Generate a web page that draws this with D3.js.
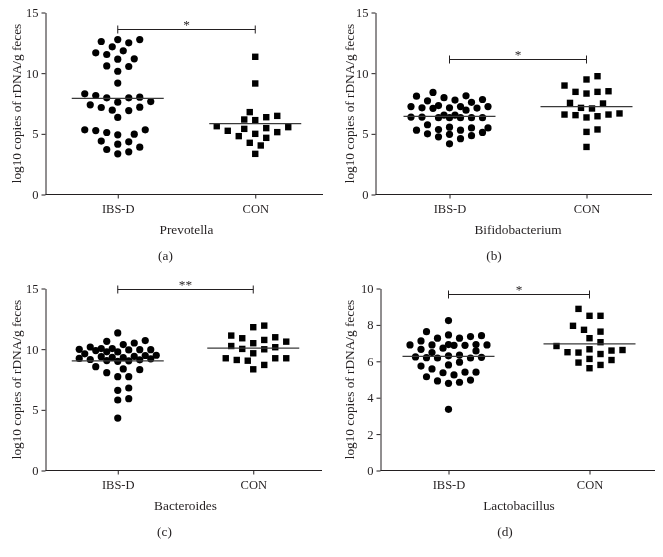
<!DOCTYPE html>
<html><head><meta charset="utf-8">
<script src="https://cdn.jsdelivr.net/npm/d3@7"></script>
<style>
body{margin:0;background:#fff}
svg{display:block;will-change:transform;-webkit-font-smoothing:antialiased}
text{font-family:"Liberation Serif","Times New Roman",serif;fill:#231f20}
</style>
</head><body>
<svg id="chart" width="663" height="557"></svg>
<script>
// ---------------- data ----------------
const groups = ["IBS-D", "CON"];
const genera = ["Prevotella", "Bifidobacterium", "Bacteroides", "Lactobacillus"];
const panelLetters = ["(a)", "(b)", "(c)", "(d)"];
const yMaxima = [15, 15, 15, 10];
const yTickValues = [[0, 5, 10, 15], [0, 5, 10, 15], [0, 5, 10, 15], [0, 2, 4, 6, 8, 10]];
const sigLevels = [13.6, 11.13, 15, 9.72];
const sigMarks = ["*", "*", "**", "*"];
const yTitle = "log10 copies of rDNA/g feces";

const prevotellaIBSD = [12.77,12.61,12.17,12.50,12.77,11.68,11.18,11.15,11.54,11.84,10.60,10.16,10.55,9.18,
  8.16,7.97,7.66,7.39,7.61,7.97,8.02,8.30,7.17,6.92,6.35,6.95,7.20,5.27,4.97,5.33,5.33,4.92,5.11,
  4.15,3.71,4.40,3.35,4.34,3.52,3.90];
const prevotellaCON = [11.35,9.15,6.48,6.79,6.18,6.13,6.37,5.55,5.41,5.14,5.63,5.47,5.25,4.81,4.67,5.00,4.26,4.04,3.35];

const bifidoIBSD = [8.41,8.10,8.13,7.83,7.72,7.78,7.98,7.60,7.33,7.25,7.25,7.25,7.12,7.10,6.95,7.14,7.14,
  6.55,6.38,6.33,6.33,6.33,6.33,6.33,6.38,6.55,
  5.75,5.35,5.55,5.49,5.30,5.12,5.30,5.49,4.96,4.75,4.85,5.00,4.60,4.18];
const bifidoCON = [9.75,9.48,8.98,8.51,8.46,8.46,8.32,7.55,7.50,7.09,7.14,6.59,6.54,6.35,6.45,6.59,6.68,5.36,5.16,3.92];

const bacteroidesIBSD = [11.34,10.65,10.38,10.05,9.99,9.96,9.94,9.96,10.05,10.18,10.51,10.71,
  9.88,9.77,9.50,9.40,9.32,9.24,9.15,9.06,9.00,9.04,9.12,9.20,9.30,9.38,9.48,9.62,9.78,
  8.56,8.37,7.73,7.73,8.06,8.31,5.92,6.80,6.61,5.81,4.32];
const bacteroidesCON = [11.81,11.94,10.98,10.76,11.12,10.90,10.49,10.62,10.02,10.16,10.26,9.99,9.66,9.05,9.25,9.25,9.11,9.25,8.70,8.34];

const lactoIBSD = [8.24,7.36,7.27,7.45,7.41,7.63,7.12,7.27,6.92,6.90,6.88,6.90,6.88,6.90,6.92,
  6.66,6.48,6.57,6.72,6.30,6.22,6.18,6.18,6.20,6.24,6.34,5.95,5.74,5.40,5.58,5.80,
  5.40,5.25,4.97,4.85,4.79,4.92,5.15,5.37,3.36];
const lactoCON = [8.88,8.50,8.50,7.95,7.63,7.73,7.27,7.05,6.84,6.66,6.59,6.62,6.48,6.40,6.50,6.13,6.07,5.93,5.80,5.62];

const ibsdSeries = [prevotellaIBSD, bifidoIBSD, bacteroidesIBSD, lactoIBSD];
const conSeries = [prevotellaCON, bifidoCON, bacteroidesCON, lactoCON];

// ---------------- layout ----------------
const layout = [
  {left: 45.5, right: 323, top: 12.5, bottom: 194.5, pt: [49, 324], titleX: 16, letterX: 165.5},
  {left: 375.5, right: 652, top: 12.5, bottom: 194.5, pt: [381, 655], titleX: 349, letterX: 494},
  {left: 45.5, right: 322, top: 288.5, bottom: 470.5, pt: [50, 321], titleX: 16, letterX: 164.5},
  {left: 380.5, right: 655, top: 288.5, bottom: 470.5, pt: [378, 660], titleX: 349, letterX: 505}
];
const ink = "#231f20";

const svg = d3.select("#chart");

// Prism-like column scatter: place points (lowest first) at the nearest free
// horizontal slot; when a row is too crowded, overlap as little as possible.
function swarm(vals, y, cx) {
  const step = 5.5, D = 9, maxK = 7;
  const order = vals.map((v, i) => i).sort((a, b) => vals[a] - vals[b]);
  const placed = [];
  const xs = new Array(vals.length);
  for (const i of order) {
    const py = y(vals[i]);
    let chosen = null, best = 0, bestD = -1;
    for (let m = 0; m <= 2 * maxK; m++) {
      const k = m === 0 ? 0 : (m % 2 ? (m + 1) / 2 : -m / 2);
      const px = k * step;
      let minD = Infinity;
      for (const p of placed) {
        const d = Math.hypot(p.x - px, p.y - py);
        if (d < minD) minD = d;
      }
      if (minD >= D) { chosen = px; break; }
      if (minD > bestD + 0.01) { bestD = minD; best = px; }
    }
    if (chosen === null) chosen = best;
    placed.push({x: chosen, y: py});
    xs[i] = cx + chosen;
  }
  return xs;
}

genera.forEach((genus, p) => {
  const L = layout[p];
  const g = svg.append("g");
  const y = d3.scaleLinear().domain([0, yMaxima[p]]).range([L.bottom, L.top]);
  const x = d3.scalePoint().domain(groups).range(L.pt).padding(0.5);

  // y axis
  const ya = g.append("g").attr("transform", `translate(${L.left},0)`)
    .call(d3.axisLeft(y).tickValues(yTickValues[p]).tickSize(4).tickPadding(3).tickSizeOuter(0));
  ya.select(".domain").attr("stroke", ink);
  ya.selectAll(".tick line").attr("stroke", ink);
  ya.selectAll(".tick text").attr("font-size", 12.5).attr("font-family", "Liberation Serif").attr("fill", ink);

  // x axis
  const xa = g.append("g").attr("transform", `translate(0,${L.bottom})`)
    .call(d3.axisBottom(x).tickSize(4).tickPadding(6).tickSizeOuter(0));
  xa.select(".domain").remove();
  xa.append("line").attr("x1", L.left).attr("x2", L.right).attr("stroke", ink);
  xa.selectAll(".tick line").attr("stroke", ink);
  xa.selectAll(".tick text").attr("font-size", 12.5).attr("font-family", "Liberation Serif").attr("fill", ink);

  // titles
  g.append("text").attr("transform", `translate(${L.titleX},${(L.top + L.bottom) / 2}) rotate(-90)`)
    .attr("text-anchor", "middle").attr("dominant-baseline", "central").attr("font-size", 13.3).text(yTitle);
  const midX = (x("IBS-D") + x("CON")) / 2;
  g.append("text").attr("x", midX).attr("y", L.bottom + 39).attr("text-anchor", "middle")
    .attr("font-size", 13.3).text(genus);
  g.append("text").attr("x", L.letterX).attr("y", L.bottom + 65).attr("text-anchor", "middle")
    .attr("font-size", 13.3).text(panelLetters[p]);

  // points
  const ib = ibsdSeries[p], cn = conSeries[p];
  const cxI = x("IBS-D"), cxC = x("CON");
  const xsI = swarm(ib, y, cxI);
  const xsC = swarm(cn, y, cxC);
  g.append("g").selectAll("circle").data(ib).join("circle")
    .attr("cx", (d, i) => xsI[i]).attr("cy", d => y(d)).attr("r", 3.6).attr("fill", "#000");
  const s = 6.4;
  g.append("g").selectAll("rect").data(cn).join("rect")
    .attr("x", (d, i) => xsC[i] - s / 2).attr("y", d => y(d) - s / 2)
    .attr("width", s).attr("height", s).attr("fill", "#000");

  // mean lines
  [[ib, cxI], [cn, cxC]].forEach(([vals, cx]) => {
    const m = d3.mean(vals);
    g.append("line").attr("x1", cx - 46).attr("x2", cx + 46)
      .attr("y1", y(m)).attr("y2", y(m)).attr("stroke", "#3a3a3a").attr("stroke-width", 1.2);
  });

  // significance bracket
  const by = Math.round(y(sigLevels[p])) + 0.5;
  const br = g.append("g").attr("stroke", ink).attr("stroke-width", 1);
  br.append("line").attr("x1", cxI).attr("x2", cxC).attr("y1", by).attr("y2", by);
  br.append("line").attr("x1", cxI).attr("x2", cxI).attr("y1", by - 4).attr("y2", by + 4);
  br.append("line").attr("x1", cxC).attr("x2", cxC).attr("y1", by - 4).attr("y2", by + 4);
  g.append("text").attr("x", (cxI + cxC) / 2).attr("y", by - 1).attr("text-anchor", "middle")
    .attr("font-size", 13.3).attr("fill", ink).text(sigMarks[p]);
});
</script>
</body></html>
